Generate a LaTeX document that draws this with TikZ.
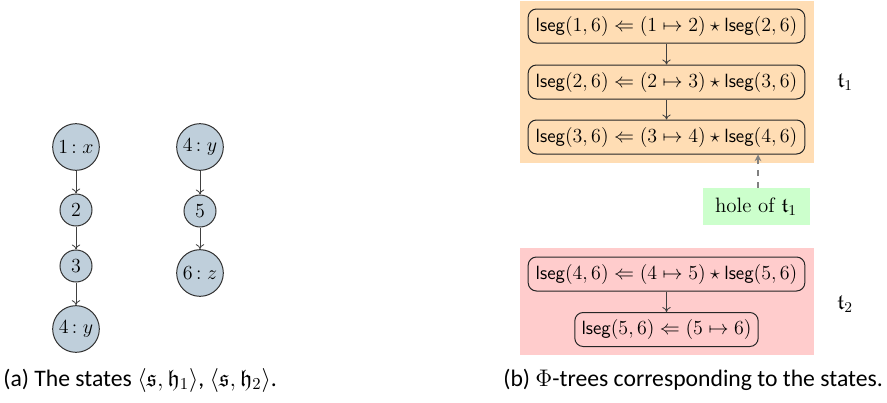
\documentclass[tikz,border=0pt]{standalone}
\usepackage{amssymb}
\usepackage{fontspec}
\newfontfamily\capfont{Carlito}
\usetikzlibrary{arrows.meta}
\definecolor{stfill}{HTML}{BFCFDB}
\definecolor{orangebg}{HTML}{FFDDB4}
\definecolor{pinkbg}{HTML}{FFCCCC}
\definecolor{holegreen}{HTML}{CCFFCC}
\begin{document}
\begin{tikzpicture}[x=0.6pt,y=-0.6pt,
  font=\fontsize{11.5}{13.8}\selectfont,
  st/.style={circle,draw=black!80,fill=stfill,line width=0.6pt,inner sep=0pt,minimum size=28pt},
  sm/.style={st,minimum size=19.2pt},
  ed/.style={draw=black!75,line width=0.5pt,-{To[length=3pt,width=5pt]}},
  rulebox/.style={draw=black!85,rounded corners=5pt,line width=0.6pt,minimum height=20.4pt,inner xsep=3pt},
  holearrow/.style={draw=black!50,line width=0.9pt,dash pattern=on 3.5pt off 3.5pt,-{Stealth[length=4pt,width=4pt]}},
  treelabel/.style={font=\fontsize{13}{15}\selectfont},
  captext/.style={anchor=base west,inner sep=0pt,font=\capfont\fontsize{14.2}{16}\selectfont}
]
\useasboundingbox (0,0) rectangle (887,403);
% left part
\node[st] (a1) at (76,147) {$1\,{:}\;x$};
\node[sm] (a2) at (76,210) {$2$};
\node[sm] (a3) at (76,266) {$3$};
\node[st] (a4) at (76,329) {$4\,{:}\;y$};
\node[st] (b4) at (200,147) {$4\,{:}\;y$};
\node[sm] (b5) at (200,211) {$5$};
\node[st] (b6) at (200,273) {$6\,{:}\;z$};
\draw[ed] (a1) -- (a2);
\draw[ed] (a2) -- (a3);
\draw[ed] (a3) -- (a4);
\draw[ed] (b4) -- (b5);
\draw[ed] (b5) -- (b6);
% right part
\fill[orangebg] (520,1) rectangle (814,163);
\fill[pinkbg] (520,248) rectangle (814,355);
\node[rulebox,minimum width=166pt] (r1) at (666.5,26) {$\mathsf{lseg}(1,6) \Leftarrow (1 \mapsto 2) \star \mathsf{lseg}(2,6)$};
\node[rulebox,minimum width=166pt] (r2) at (666.5,82) {$\mathsf{lseg}(2,6) \Leftarrow (2 \mapsto 3) \star \mathsf{lseg}(3,6)$};
\node[rulebox,minimum width=166pt] (r3) at (666.5,137) {$\mathsf{lseg}(3,6) \Leftarrow (3 \mapsto 4) \star \mathsf{lseg}(4,6)$};
\node[rulebox,minimum width=166pt] (r4) at (666.5,274) {$\mathsf{lseg}(4,6) \Leftarrow (4 \mapsto 5) \star \mathsf{lseg}(5,6)$};
\node[rulebox,minimum width=110pt] (r5) at (666.5,329.5) {$\mathsf{lseg}(5,6) \Leftarrow (5 \mapsto 6)$};
\draw[ed] (r1) -- (r2);
\draw[ed] (r2) -- (r3);
\draw[ed] (r4) -- (r5);
\node[treelabel] (t1) at (845,82) {$\mathfrak{t}_1$};
\node[treelabel] (t2) at (845,304) {$\mathfrak{t}_2$};
\node[fill=holegreen,minimum width=64.2pt,minimum height=22.2pt,inner sep=0pt,font=\fontsize{12.5}{15}\selectfont] (hole) at (756,206.5) {hole of $\mathfrak{t}_1$};
\coordinate (hp) at (hole.north -| 758,0);
\draw[holearrow] (hp) -- (hp |- r3.south);
% captions
\node[captext] (capa) at (3,386) {(a) The states $\langle \mathfrak{s}, \mathfrak{h}_1\rangle$, $\langle \mathfrak{s}, \mathfrak{h}_2\rangle$.};
\node[captext] (capb) at (503,386) {(b) $\Phi$-trees corresponding to the states.};
\end{tikzpicture}
\end{document}
